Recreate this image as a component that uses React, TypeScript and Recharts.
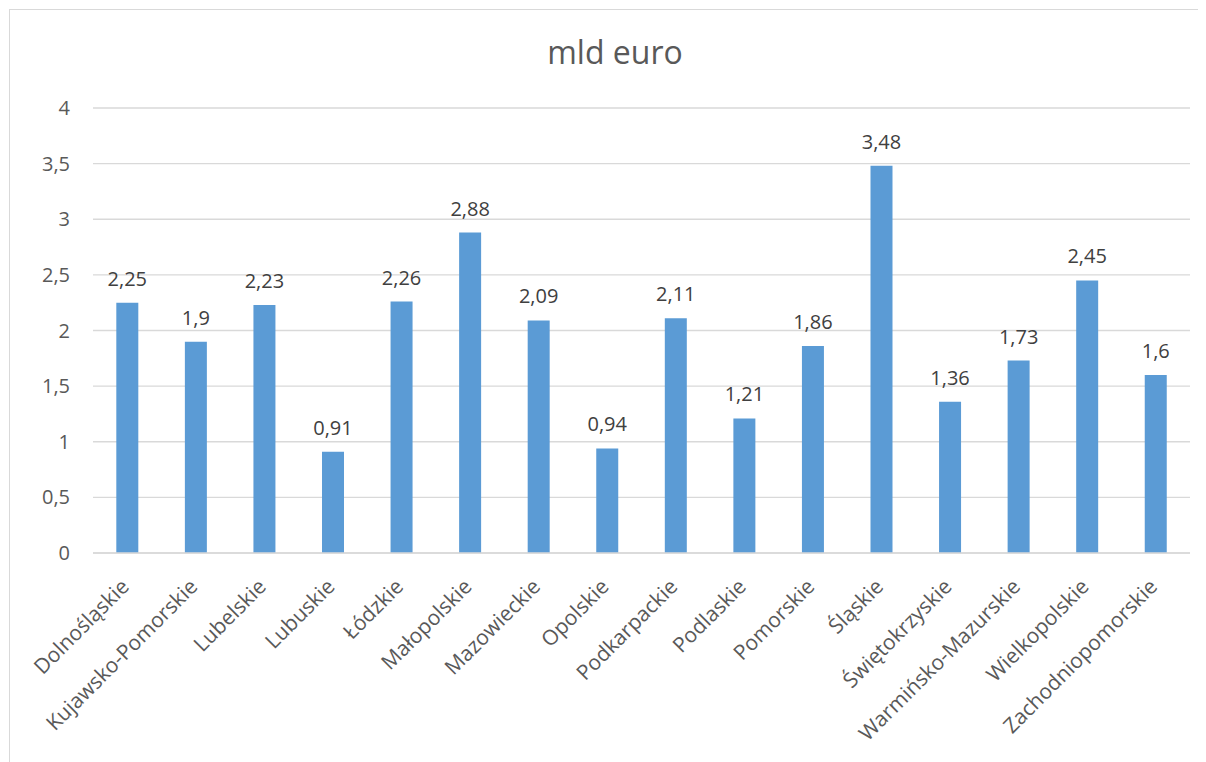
import React from "react";
import { BarChart, Bar, XAxis, YAxis, CartesianGrid, LabelList } from "recharts";

const categories = [
  "Dolnośląskie",
  "Kujawsko-Pomorskie",
  "Lubelskie",
  "Lubuskie",
  "Łódzkie",
  "Małopolskie",
  "Mazowieckie",
  "Opolskie",
  "Podkarpackie",
  "Podlaskie",
  "Pomorskie",
  "Śląskie",
  "Świętokrzyskie",
  "Warmińsko-Mazurskie",
  "Wielkopolskie",
  "Zachodniopomorskie",
];
const values = [2.25, 1.9, 2.23, 0.91, 2.26, 2.88, 2.09, 0.94, 2.11, 1.21, 1.86, 3.48, 1.36, 1.73, 2.45, 1.6];
const yTicks = [0, 0.5, 1, 1.5, 2, 2.5, 3, 3.5, 4];
const title = "mld euro";

const data = categories.map((name, i) => ({ name, value: values[i] }));

const FONT = "'Open Sans', sans-serif";
const fmt = (v: number) => String(v).replace(".", ",");

const XTick = (props: any) => {
  const { x, y, payload } = props;
  const ax = x + 3;
  const ay = y + 27;
  return (
    <text
      x={ax}
      y={ay}
      transform={`rotate(-45, ${ax}, ${ay})`}
      textAnchor="end"
      fontSize={21}
      fontFamily={FONT}
      fill="#595959"
    >
      {payload.value}
    </text>
  );
};

export default function App() {
  return (
    <div style={{ position: "relative", width: 1198, height: 754, overflow: "hidden" }}>
      <div
        style={{
          position: "absolute",
          left: 1,
          top: 1,
          width: 1197,
          height: 753,
          borderLeft: "1px solid #d9d9d9",
          borderTop: "1px solid #d9d9d9",
          boxSizing: "border-box",
        }}
      />
      <div
        style={{
          position: "absolute",
          left: 0,
          top: 24,
          width: 1214,
          textAlign: "center",
          fontFamily: FONT,
          fontSize: 32,
          color: "#595959",
          lineHeight: "40px",
        }}
      >
        {title}
      </div>
      <div style={{ position: "absolute", left: 0, top: 0 }}>
        <BarChart
          width={1198}
          height={754}
          data={data}
          margin={{ top: 100, right: 16, bottom: 0, left: 0 }}
          barCategoryGap="34%"
        >
          <CartesianGrid vertical={false} stroke="#d9d9d9" strokeWidth={1.3} />
          <XAxis
            dataKey="name"
            interval={0}
            height={209}
            tickLine={false}
            axisLine={{ stroke: "#d9d9d9", strokeWidth: 1.3 }}
            tick={<XTick />}
          />
          <YAxis
            width={85}
            domain={[0, 4]}
            ticks={yTicks}
            axisLine={false}
            tickLine={false}
            tickMargin={17}
            tickFormatter={fmt}
            tick={{ fontSize: 20, fontFamily: FONT, fill: "#595959" }}
          />
          <Bar dataKey="value" fill="#5b9bd5" isAnimationActive={false}>
            <LabelList
              dataKey="value"
              position="top"
              offset={17}
              formatter={(v: any) => fmt(v)}
              style={{ fontSize: 20, fontFamily: FONT, fill: "#404040" }}
            />
          </Bar>
        </BarChart>
      </div>
    </div>
  );
}
